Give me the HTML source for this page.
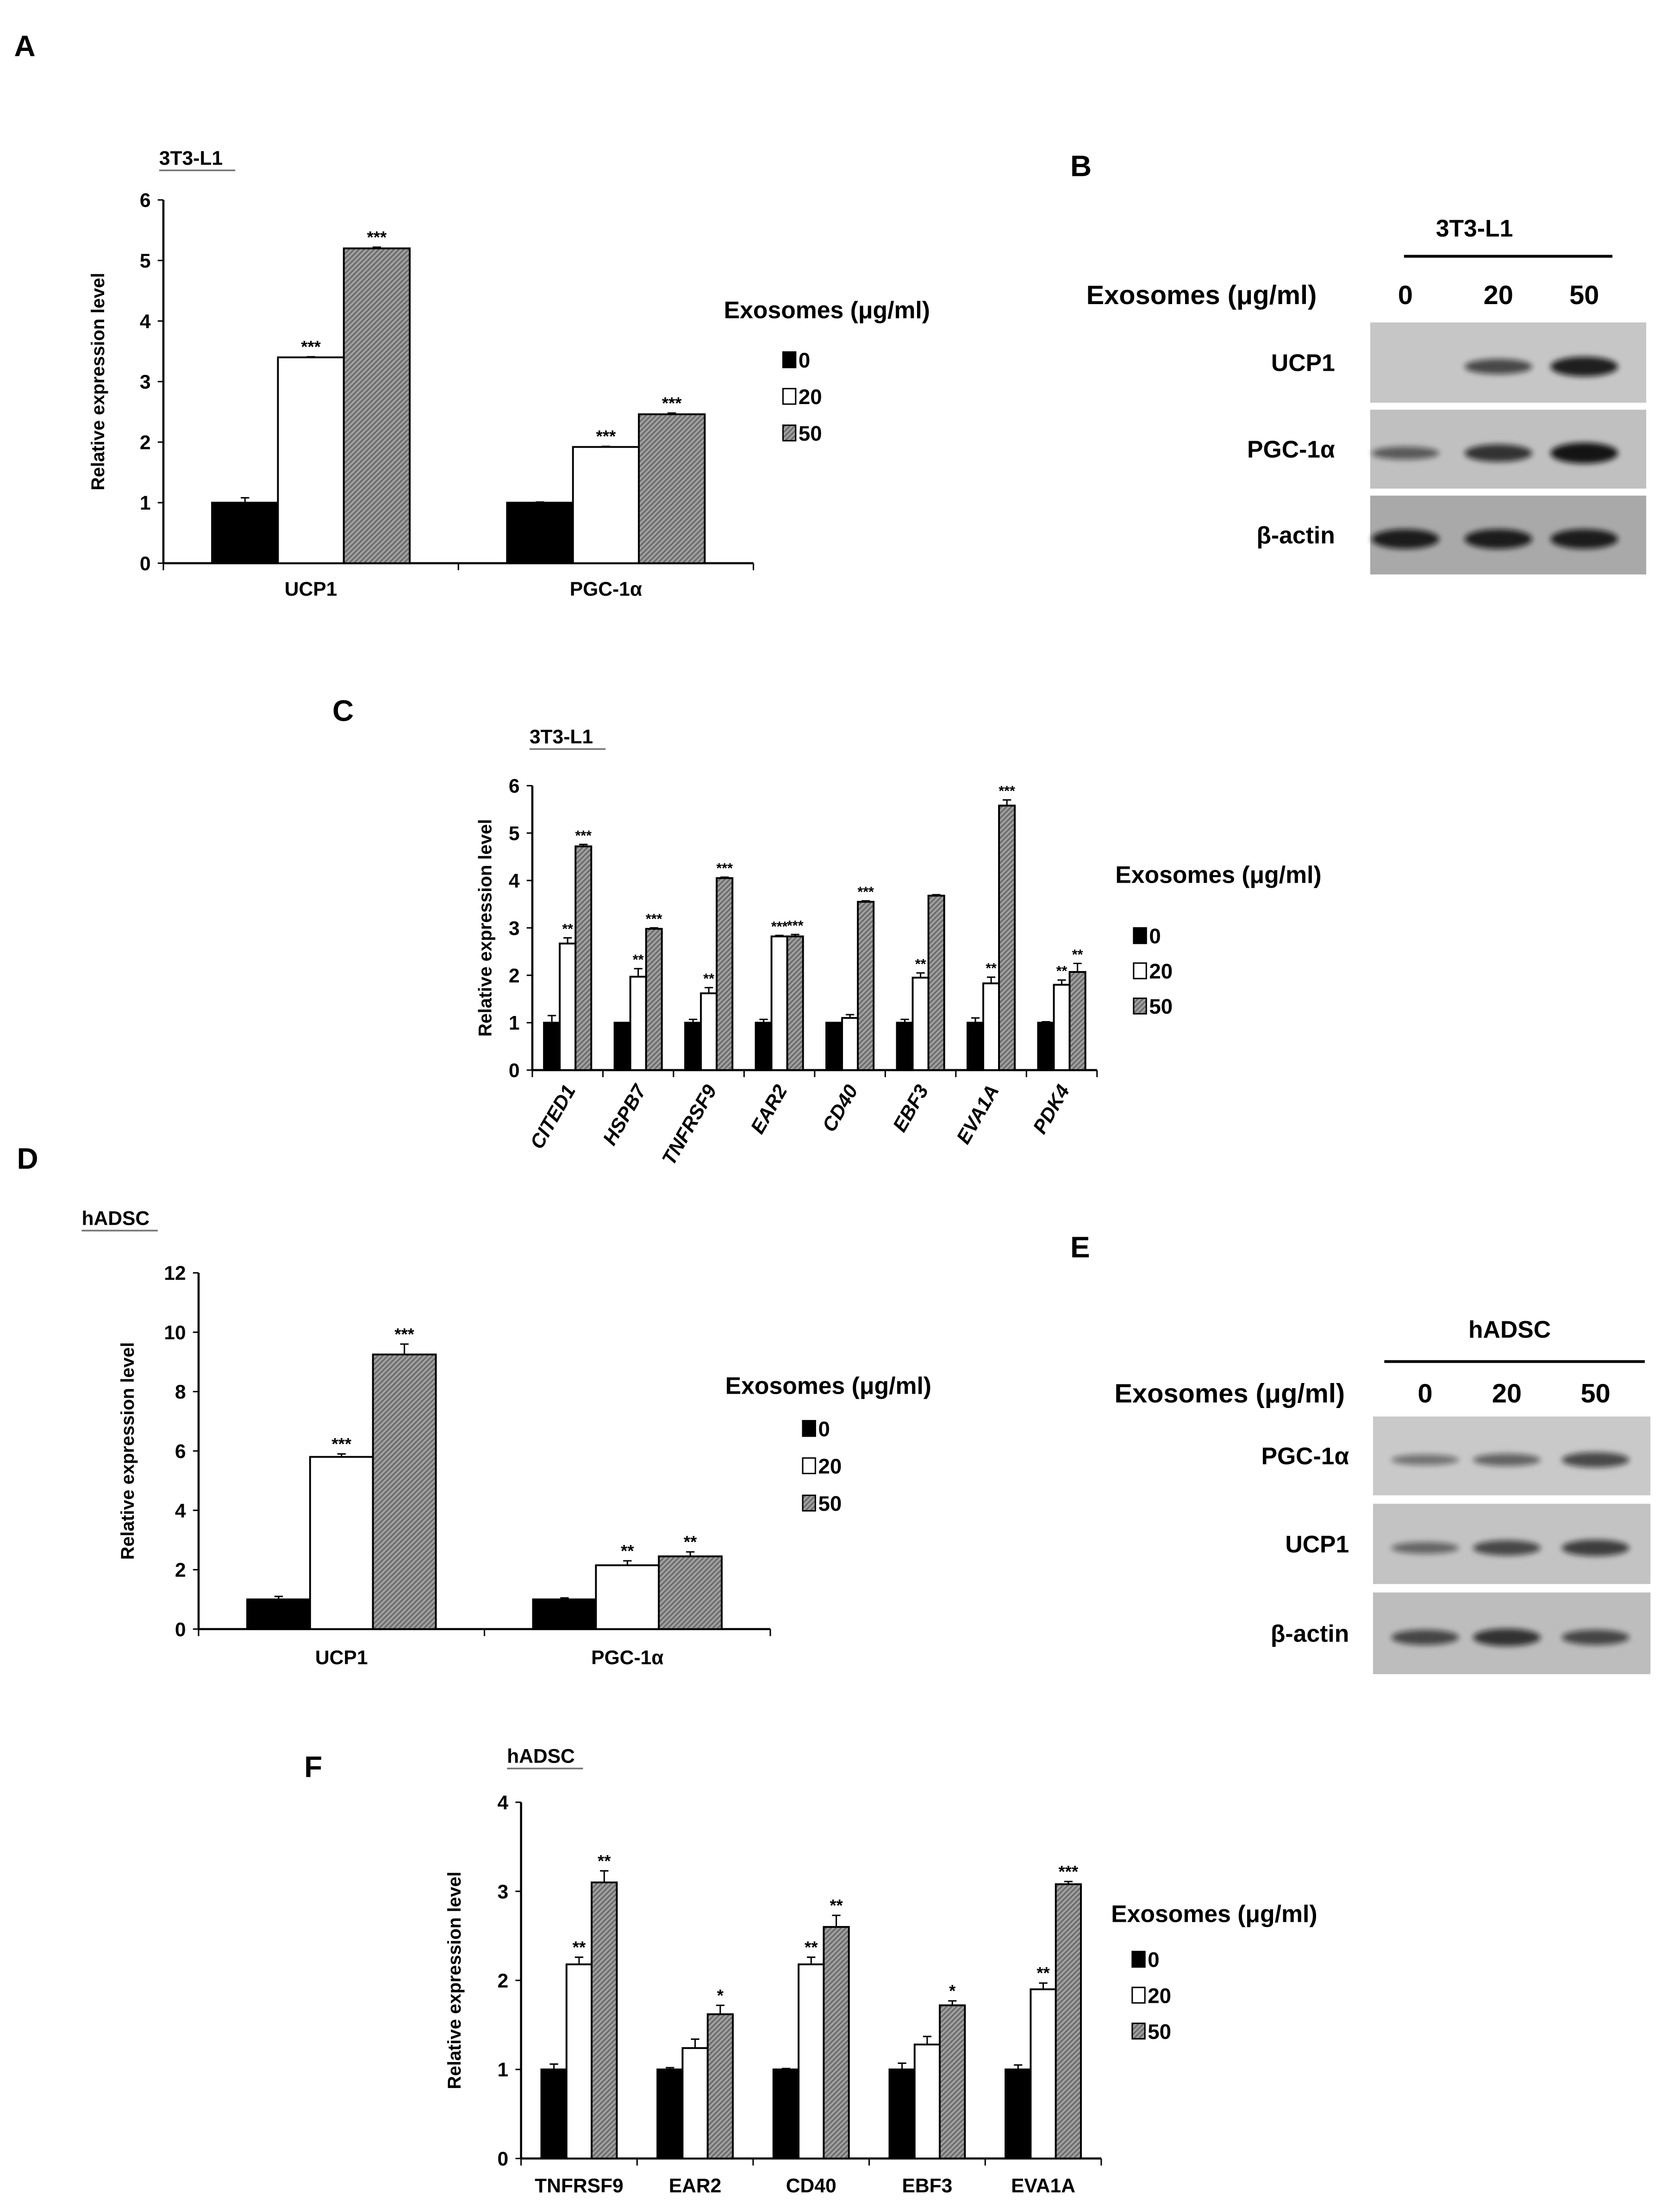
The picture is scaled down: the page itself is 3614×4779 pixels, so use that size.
<!DOCTYPE html>
<html><head><meta charset="utf-8"><style>
html,body{margin:0;padding:0;background:#fff}
svg{display:block}
text{font-family:"Liberation Sans",sans-serif;font-weight:bold;fill:#000}
</style></head><body>
<svg id="fig" width="3614" height="4779" viewBox="0 0 1188 1571" xmlns="http://www.w3.org/2000/svg">
<defs>
<pattern id="hatch" patternUnits="userSpaceOnUse" width="2.5" height="2.5" patternTransform="rotate(45)">
<rect width="2.5" height="2.5" fill="#a0a0a0"/><rect width="1.1" height="2.5" fill="#6a6a6a"/>
</pattern>
<filter id="blur" x="-50%" y="-50%" width="200%" height="200%"><feGaussianBlur stdDeviation="2"/></filter>
</defs>
<g id="root"></g>
</svg>
<script>
// Panel A data
const catsA = ["UCP1", "PGC-1α"];
const a0 = [1, 1], a0e = [0.08, 0.01];
const a20 = [3.4, 1.92], a20e = [0.01, 0.01];
const a50 = [5.2, 2.46], a50e = [0.02, 0.02];
const a20s = ["***", "***"], a50s = ["***", "***"], a0s = ["", ""];
const ticksA = [0, 1, 2, 3, 4, 5, 6];
// Panel C data
const catsC = ["CITED1", "HSPB7", "TNFRSF9", "EAR2", "CD40", "EBF3", "EVA1A", "PDK4"];
const c0 = [1, 1, 1, 1, 1, 1, 1, 1], c0e = [0.15, 0, 0.07, 0.07, 0, 0.07, 0.1, 0.02];
const c20 = [2.67, 1.97, 1.62, 2.82, 1.1, 1.95, 1.83, 1.8], c20e = [0.12, 0.17, 0.12, 0.02, 0.07, 0.1, 0.13, 0.1];
const c50 = [4.72, 2.98, 4.05, 2.82, 3.55, 3.68, 5.58, 2.07], c50e = [0.04, 0.02, 0.02, 0.04, 0.02, 0.02, 0.12, 0.18];
const c20s = ["**", "**", "**", "***", "", "**", "**", "**"];
const c50s = ["***", "***", "***", "***", "***", "", "***", "**"];
const c0s = ["", "", "", "", "", "", "", ""];
const ticksC = [0, 1, 2, 3, 4, 5, 6];
// Panel D data
const catsD = ["UCP1", "PGC-1α"];
const d0 = [1, 1], d0e = [0.1, 0.05];
const d20 = [5.8, 2.15], d20e = [0.1, 0.15];
const d50 = [9.25, 2.45], d50e = [0.35, 0.15];
const d20s = ["***", "**"], d50s = ["***", "**"], d0s = ["", ""];
const ticksD = [0, 2, 4, 6, 8, 10, 12];
// Panel F data
const catsF = ["TNFRSF9", "EAR2", "CD40", "EBF3", "EVA1A"];
const f0 = [1, 1, 1, 1, 1], f0e = [0.06, 0.02, 0.01, 0.07, 0.05];
const f20 = [2.18, 1.24, 2.18, 1.28, 1.9], f20e = [0.08, 0.1, 0.08, 0.09, 0.07];
const f50 = [3.1, 1.62, 2.6, 1.72, 3.08], f50e = [0.13, 0.1, 0.13, 0.05, 0.03];
const f20s = ["**", "", "**", "", "**"], f50s = ["**", "*", "**", "*", "***"], f0s = ["", "", "", "", ""];
const ticksF = [0, 1, 2, 3, 4];
const legendLabels = ["0", "20", "50"];

const NS = "http://www.w3.org/2000/svg";
const root = document.getElementById("root");
function el(tag, attrs, parent, txt) {
  const e = document.createElementNS(NS, tag);
  for (const k in attrs) e.setAttribute(k, attrs[k]);
  if (txt !== undefined) e.textContent = txt;
  (parent || root).appendChild(e);
  return e;
}
const fills = ["#000", "#fff", "url(#hatch)"];

function chart(o) {
  const g = el("g", {});
  
  
  const y = v => o.y0 - (v / o.ymax) * (o.y0 - o.y1);
  const n = o.cats.length, gw = (o.x1 - o.x0) / n;
  const ya = el("line", {x1: o.x0, y1: o.y1, x2: o.x0, y2: o.y0, stroke: "#000", "stroke-width": 1.5}, g);
  
  
  const xa = el("line", {x1: o.x0, y1: o.y0, x2: o.x1, y2: o.y0, stroke: "#000", "stroke-width": 1.5}, g);
  
  
  o.ticks.forEach(t => {
    el("line", {x1: o.x0 - 4, y1: y(t), x2: o.x0, y2: y(t), stroke: "#000", "stroke-width": 1}, g);
    const tl = el("text", {x: o.x0 - 9, y: y(t) + 5, "text-anchor": "end", "font-size": 14}, g, t);
    
    
  });
  for (let i = 0; i <= n; i++) el("line", {x1: o.x0 + i * gw, y1: o.y0, x2: o.x0 + i * gw, y2: o.y0 + 5, stroke: "#000", "stroke-width": 1}, g);
  const yl = el("text", {x: 0, y: 0, "text-anchor": "middle", "font-size": 13, transform: `translate(${o.ylx + 5},${(o.y0 + o.y1) / 2}) rotate(-90)`}, g, "Relative expression level");
  
  
  const series = [[o.s0, o.e0, o.st0], [o.s1, o.e1, o.st1], [o.s2, o.e2, o.st2]];
  const bw = gw * o.bf / 3;
  o.cats.forEach((c, i) => {
    const cx = o.x0 + gw * (i + 0.5);
    series.forEach((s, k) => {
      const bx = cx - 1.5 * bw + k * bw, v = s[0][i], e = s[1][i];
      const r = el("rect", {x: bx, y: y(v), width: bw, height: o.y0 - y(v), fill: fills[k], stroke: "#000", "stroke-width": 1.3}, g);
      
      
      if (e > 0) {
        el("line", {x1: bx + bw / 2, y1: y(v), x2: bx + bw / 2, y2: y(v + e), stroke: "#000", "stroke-width": 1}, g);
        el("line", {x1: bx + bw / 2 - 3, y1: y(v + e), x2: bx + bw / 2 + 3, y2: y(v + e), stroke: "#000", "stroke-width": 1}, g);
      }
      if (s[2][i]) {
        const st = el("text", {x: bx + bw / 2, y: y(v + e) - 3, "text-anchor": "middle", "font-size": o.sf, "font-weight": "normal", fill: "#333"}, g, s[2][i]);
        
        
      }
    });
    let lab;
    if (o.rot) lab = el("text", {x: 0, y: 0, "text-anchor": "end", "font-size": 14, "font-style": "italic", transform: `translate(${cx + 6},${o.y0 + 14}) rotate(-60)`}, g, c);
    else lab = el("text", {x: cx, y: o.y0 + o.ly, "text-anchor": "middle", "font-size": 14}, g, c);
    
    
  });
  const lt = el("text", {x: o.lgx, y: o.lgy, "font-size": 17}, g, "Exosomes (μg/ml)");
  
  
  legendLabels.forEach((l, k) => {
    const yy = o.lgy + o.lg0 + k * o.lgd;
    const b = el("rect", {x: o.lbx, y: yy - 11, width: 9, height: 11, fill: fills[k], stroke: "#000", "stroke-width": 1}, g);
    
    
    const t = el("text", {x: o.lbx + 11, y: yy, "font-size": 15}, g, l);
    
    
  });
  const tt = el("text", {x: o.tx, y: o.ty, "font-size": 14}, g, o.title);
  
  
  el("line", {x1: o.tx, y1: o.ty + 4, x2: o.tx + o.tw, y2: o.ty + 4, stroke: "#777", "stroke-width": 1.2}, g);
}

chart({name: "chart-a", cats: catsA, s0: a0, e0: a0e, st0: a0s, s1: a20, e1: a20e, st1: a20s, s2: a50, e2: a50e, st2: a50s,
  ticks: ticksA, ymax: 6, x0: 116, x1: 535, y0: 400, y1: 142, bf: 0.67, ylx: 69, ly: 23, sf: 12, rot: false,
  lgx: 514, lgy: 226, lg0: 35, lgd: 26, lbx: 556, tx: 113, ty: 117, tw: 54, title: "3T3-L1"});
chart({name: "chart-c", cats: catsC, s0: c0, e0: c0e, st0: c0s, s1: c20, e1: c20e, st1: c20s, s2: c50, e2: c50e, st2: c50s,
  ticks: ticksC, ymax: 6, x0: 378, x1: 779, y0: 760, y1: 558, bf: 0.67, ylx: 344, ly: 25, sf: 10, rot: true,
  lgx: 792, lgy: 627, lg0: 43, lgd: 25, lbx: 805, tx: 376, ty: 528, tw: 54, title: "3T3-L1"});
chart({name: "chart-d", cats: catsD, s0: d0, e0: d0e, st0: d0s, s1: d20, e1: d20e, st1: d20s, s2: d50, e2: d50e, st2: d50s,
  ticks: ticksD, ymax: 12, x0: 141, x1: 547, y0: 1157, y1: 904, bf: 0.66, ylx: 90, ly: 25, sf: 12, rot: false,
  lgx: 515, lgy: 990, lg0: 30, lgd: 26.5, lbx: 570, tx: 58, ty: 870, tw: 54, title: "hADSC"});
chart({name: "chart-f", cats: catsF, s0: f0, e0: f0e, st0: f0s, s1: f20, e1: f20e, st1: f20s, s2: f50, e2: f50e, st2: f50s,
  ticks: ticksF, ymax: 4, x0: 370, x1: 782, y0: 1533, y1: 1280, bf: 0.65, ylx: 322, ly: 24, sf: 12, rot: false,
  lgx: 789, lgy: 1365, lg0: 32, lgd: 25.5, lbx: 804, tx: 360, ty: 1252, tw: 54, title: "hADSC"});

[["A", 10, 40], ["B", 760, 125], ["C", 236, 512], ["D", 12, 830], ["E", 760, 893], ["F", 216, 1262]].forEach(p => {
  const t = el("text", {x: p[1], y: p[2], "font-size": 21}, root, p[0]);
  
  
});

function blot(o) {
  const g = el("g", {});
  
  
  const h = el("text", {x: o.hx, y: o.hy, "text-anchor": "middle", "font-size": 17}, g, o.head);
  
  
  el("line", {x1: o.lx1, y1: o.ly, x2: o.lx2, y2: o.ly, stroke: "#000", "stroke-width": 2}, g);
  const ex = el("text", {x: o.ex, y: o.ey, "text-anchor": "end", "font-size": 19}, g, "Exosomes (μg/ml)");
  
  
  o.lanes.forEach((lx, i) => {
    const t = el("text", {x: lx, y: o.ey, "text-anchor": "middle", "font-size": 19}, g, legendLabels[i]);
    
    
  });
  o.rows.forEach(r => {
    const rr = el("rect", {x: o.bx, y: r.y, width: o.bw, height: r.h, fill: r.bg}, g);
    
    
    r.bands.forEach((b, i) => {
      if (b > 0) el("ellipse", {cx: o.lanes[i], cy: r.y + r.h * 0.55, rx: 24, ry: 3 + b * 4, fill: "#111", opacity: 0.35 + b * 0.55, filter: "url(#blur)"}, g);
    });
    const t = el("text", {x: o.labx, y: r.y + r.h / 2 + 6, "text-anchor": "end", "font-size": 17}, g, r.label);
    
    
  });
}
blot({name: "western-blot-b", head: "3T3-L1", hx: 1047, hy: 168, lx1: 997, lx2: 1145, ly: 182, ex: 935, ey: 216,
  lanes: [998, 1064, 1125], bx: 973, bw: 196, labx: 948,
  rows: [{label: "UCP1", y: 229, h: 57, bg: "#c6c6c6", bands: [0, 0.6, 1]},
         {label: "PGC-1α", y: 291, h: 56, bg: "#c0c0c0", bands: [0.4, 0.8, 1.1]},
         {label: "β-actin", y: 352, h: 56, bg: "#a9a9a9", bands: [1, 1, 1]}]});
blot({name: "western-blot-e", head: "hADSC", hx: 1072, hy: 950, lx1: 983, lx2: 1168, ly: 967, ex: 955, ey: 996,
  lanes: [1012, 1070, 1133], bx: 975, bw: 197, labx: 958,
  rows: [{label: "PGC-1α", y: 1006, h: 56, bg: "#c9c9c9", bands: [0.2, 0.35, 0.6]},
         {label: "UCP1", y: 1068, h: 57, bg: "#c3c3c3", bands: [0.3, 0.6, 0.7]},
         {label: "β-actin", y: 1131, h: 58, bg: "#bdbdbd", bands: [0.6, 0.8, 0.6]}]});
</script>
</body></html>
